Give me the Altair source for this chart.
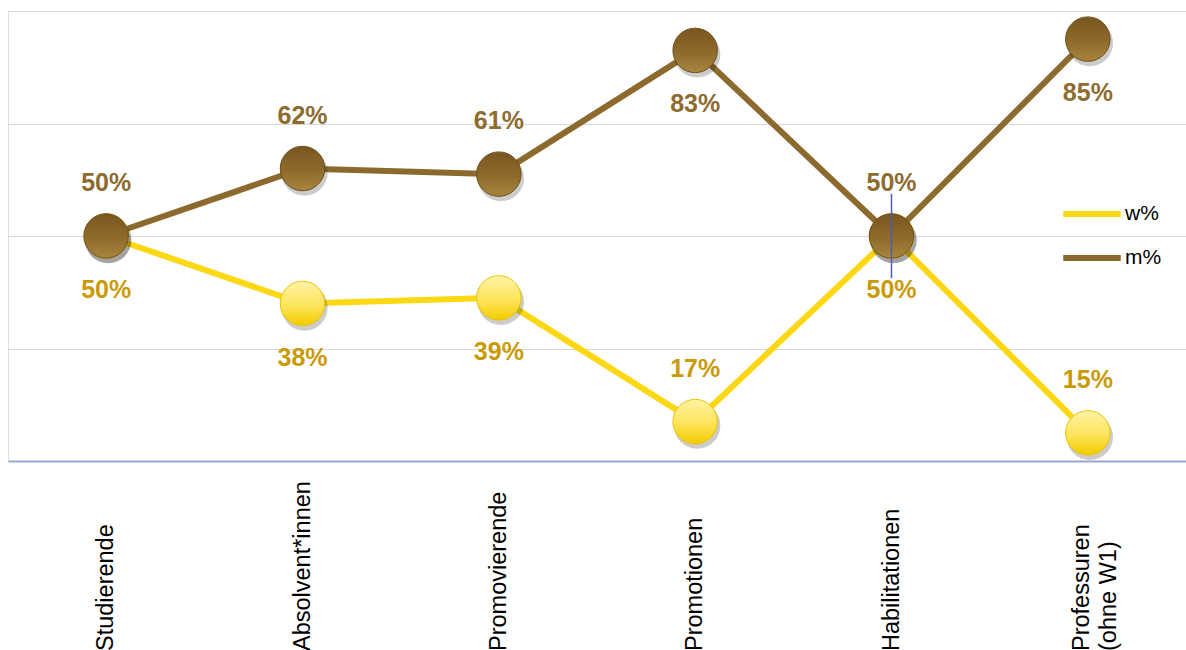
import altair as alt
import pandas as pd

categories = ["Studierende", "Absolvent*innen", "Promovierende", "Promotionen",
              "Habilitationen", "Professuren\n(ohne W1)"]
w_values = [50, 38, 39, 17, 50, 15]
m_values = [50, 62, 61, 83, 50, 85]
series_names = ["w%", "m%"]

# thin vertical mark seen at Habilitationen in the original
artifact_cat = ["Habilitationen"]
artifact_lo = [42.5]
artifact_hi = [57.5]

YELLOW = "#FBD714"
BROWN = "#8C6A2D"
GOLD_TXT = "#C99A06"
BROWN_TXT = "#8E6B2F"

rows = []
for c, w, m in zip(categories, w_values, m_values):
    rows.append({"cat": c, "series": "w%", "value": w, "label": f"{w}%"})
    rows.append({"cat": c, "series": "m%", "value": m, "label": f"{m}%"})
df = pd.DataFrame(rows)
cat_df = pd.DataFrame({"cat": categories})
art_df = pd.DataFrame({"cat": artifact_cat, "lo": artifact_lo, "hi": artifact_hi})

x_scale = alt.Scale(type="point", padding=0.5)
x_enc = alt.X("cat:N", sort=categories, scale=x_scale,
              axis=alt.Axis(labels=False, ticks=False, title=None, grid=False,
                            domain=True, domainColor="#9EA6CF", domainWidth=2))
y_scale = alt.Scale(domain=[10, 90], nice=False, zero=False)
y_enc = alt.Y("value:Q", scale=y_scale,
              axis=alt.Axis(labels=False, ticks=False, title=None, domain=False,
                            values=[10, 30, 50, 70, 90], gridColor="#D9D9D9",
                            gridWidth=1))

base = alt.Chart(df)

lines = base.mark_line(strokeWidth=6).encode(
    x=x_enc, y=y_enc,
    stroke=alt.Stroke("series:N",
                      scale=alt.Scale(domain=series_names, range=[YELLOW, BROWN]),
                      legend=alt.Legend(
                          title=None, orient="none", legendX=1052, legendY=171,
                          symbolType="M-1,0L1,0", symbolSize=3300,
                          symbolStrokeWidth=6, labelFontSize=21,
                          labelColor="#000000", labelFont="Liberation Sans",
                          labelOffset=1, rowPadding=-25)),
    detail="series:N",
    order=alt.Order("series:N", sort="descending"),
)

shadow = base.mark_circle(color="#000000", opacity=0.2, size=2150).encode(
    x=x_enc, y=y_enc, xOffset=alt.value(2), yOffset=alt.value(4))

yellow_grad = alt.Gradient(
    gradient="linear", x1=0, x2=0, y1=0, y2=1,
    stops=[alt.GradientStop(color="#FFF3A6", offset=0),
           alt.GradientStop(color="#FDE45A", offset=0.55),
           alt.GradientStop(color="#F2CB00", offset=1)])
brown_grad = alt.Gradient(
    gradient="linear", x1=0, x2=0, y1=0, y2=1,
    stops=[alt.GradientStop(color="#785620", offset=0),
           alt.GradientStop(color="#8E6B2B", offset=0.55),
           alt.GradientStop(color="#A8863F", offset=1)])

w_pts = base.transform_filter("datum.series == 'w%'").mark_circle(
    fill=yellow_grad, stroke="#EBC400", strokeWidth=1, opacity=1, size=1980
).encode(x=x_enc, y=y_enc)
m_pts = base.transform_filter("datum.series == 'm%'").mark_circle(
    fill=brown_grad, stroke="#6E4F18", strokeWidth=1, opacity=1, size=1980
).encode(x=x_enc, y=y_enc)

above_expr = ("(datum.series == 'm%' && datum.value < 80) || "
              "(datum.series == 'w%' && datum.value <= 20)")
txt_fill = alt.Fill("series:N",
                    scale=alt.Scale(domain=series_names, range=[GOLD_TXT, BROWN_TXT]),
                    legend=None)
lab_above = base.transform_filter(above_expr).mark_text(
    fontSize=25, fontWeight="bold", font="Liberation Sans", dy=-53,
    baseline="middle", align="center"
).encode(x=x_enc, y=y_enc, text="label:N", fill=txt_fill)
lab_below = base.transform_filter("!(" + above_expr + ")").mark_text(
    fontSize=25, fontWeight="bold", font="Liberation Sans", dy=54,
    baseline="middle", align="center"
).encode(x=x_enc, y=y_enc, text="label:N", fill=txt_fill)

artifact = alt.Chart(art_df).mark_rule(color="#4F5FAE", strokeWidth=1.5).encode(
    x=alt.X("cat:N", sort=categories, scale=x_scale),
    y=alt.Y("lo:Q", scale=y_scale), y2="hi:Q")

label_style = dict(angle=270, align="left", baseline="middle", fontSize=23.5,
                   font="Liberation Sans", color="#000000", lineBreak="\n",
                   lineHeight=27)
single_labels = alt.Chart(cat_df).transform_filter(
    "indexof(datum.cat, '\\n') < 0").mark_text(**label_style).encode(
    x=alt.X("cat:N", sort=categories, scale=x_scale),
    y=alt.value(640), text="cat:N")
multi_labels = alt.Chart(cat_df).transform_filter(
    "indexof(datum.cat, '\\n') >= 0").mark_text(dy=-6, **label_style).encode(
    x=alt.X("cat:N", sort=categories, scale=x_scale),
    y=alt.value(640), text="cat:N")

chart = alt.layer(lines, shadow, w_pts, m_pts, artifact, lab_above, lab_below,
                  single_labels, multi_labels).properties(
    width=1178, height=450,
    autosize=alt.AutoSizeParams(type="none"),
    padding={"left": 8, "top": 11, "right": 0, "bottom": 189},
).configure_view(stroke=None).configure(font="Liberation Sans")

chart.save("out.html", embed_options={"renderer": "svg", "actions": False})
